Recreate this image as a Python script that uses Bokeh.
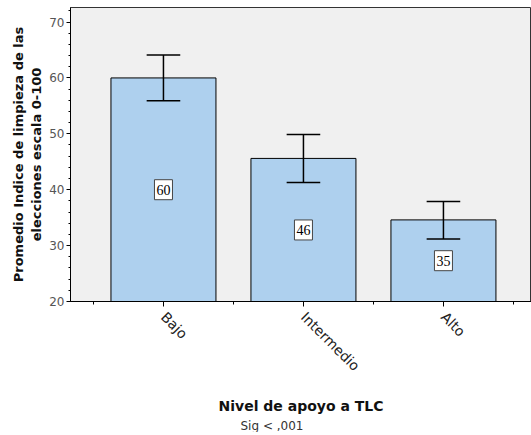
import math
from bokeh.plotting import figure
from bokeh.models import FixedTicker, Range1d, ColumnDataSource, Title
from bokeh.embed import file_html
from bokeh.resources import INLINE

categories = ["Bajo", "Intermedio", "Alto"]
means = [60.0, 45.6, 34.6]
ci_low = [55.9, 41.3, 31.2]
ci_high = [64.1, 49.9, 37.9]
value_labels = ["60", "46", "35"]
y_ticks = [20, 30, 40, 50, 60, 70]
y_base = 20

xs = list(range(len(categories)))
src = ColumnDataSource(dict(
    x=xs, top=means, lo=ci_low, hi=ci_high,
    lab=value_labels,
    mid=[(y_base + m) / 2 for m in means],
    cl=[v - 0.12 for v in xs], cr=[v + 0.12 for v in xs],
))

p = figure(frame_width=461, frame_height=294,
           x_range=Range1d(-0.664, 2.629), y_range=Range1d(20, 72.6),
           output_backend="svg", toolbar_location=None,
           min_border_left=70, min_border_top=7, min_border_right=0,
           min_border_bottom=0)
p.background_fill_color = "#f0f0f0"
p.border_fill_color = "white"
p.outline_line_color = "#333333"
p.grid.visible = False

p.vbar(x="x", width=0.75, bottom=y_base, top="top", source=src,
       fill_color="#aed0ee", line_color="black", line_width=1)

# error bars
p.segment(x0="x", x1="x", y0="lo", y1="hi", source=src, line_color="black", line_width=1.5)
p.segment(x0="cl", x1="cr", y0="lo", y1="lo", source=src, line_color="black", line_width=1.5)
p.segment(x0="cl", x1="cr", y0="hi", y1="hi", source=src, line_color="black", line_width=1.5)

# value boxes
p.rect(x="x", y="mid", width=18, height=20, width_units="screen", height_units="screen",
       source=src, fill_color="white", line_color="#444444", line_width=1)
p.text(x="x", y="mid", text="lab", source=src, text_align="center", text_baseline="middle",
       text_font={"value": "Liberation Serif"}, text_font_size="14px", text_color="black")

# y axis
ya = p.yaxis[0]
ya.ticker = FixedTicker(ticks=y_ticks, minor_ticks=[v for v in range(20, 73, 2)])
ya.axis_label = "Promedio Indice de limpieza de las\nelecciones escala 0-100"
ya.axis_label_text_font = "DejaVu Sans"
ya.axis_label_text_font_style = "bold"
ya.axis_label_text_font_size = "13px"
ya.axis_label_text_color = "#111111"
ya.axis_label_standoff = 2
ya.major_label_text_font = "DejaVu Sans"
ya.major_label_text_font_size = "12px"
ya.major_label_text_color = "#555555"
ya.major_label_standoff = 2
ya.major_tick_in = 0
ya.major_tick_out = 4
ya.minor_tick_in = 0
ya.minor_tick_out = 2
ya.axis_line_color = "black"
ya.major_tick_line_color = "black"
ya.minor_tick_line_color = "black"

# x axis
xa = p.xaxis[0]
xa.ticker = FixedTicker(ticks=xs, minor_ticks=[-0.5, 0.5, 1.5, 2.5])
xa.major_label_overrides = {i: c for i, c in enumerate(categories)}
xa.major_label_orientation = -math.pi / 4
xa.major_label_text_font = "DejaVu Sans"
xa.major_label_text_font_size = "14px"
xa.major_label_text_color = "#222222"
xa.major_label_standoff = 8
xa.axis_label = "Nivel de apoyo a TLC"
xa.axis_label_text_font = "DejaVu Sans"
xa.axis_label_text_font_style = "bold"
xa.axis_label_text_font_size = "14px"
xa.axis_label_text_color = "#111111"
xa.axis_label_standoff = 15
xa.major_tick_in = 0
xa.major_tick_out = 5
xa.minor_tick_in = 0
xa.minor_tick_out = 3
xa.axis_line_color = "black"
xa.major_tick_line_color = "black"
xa.minor_tick_line_color = "black"

p.add_layout(Title(text="Sig < ,001", align="left", offset=170, standoff=0,
                   text_font="DejaVu Sans", text_font_size="12px",
                   text_font_style="normal", text_color="#333333"), "below")

open("out.html", "w").write(file_html(p, INLINE))
